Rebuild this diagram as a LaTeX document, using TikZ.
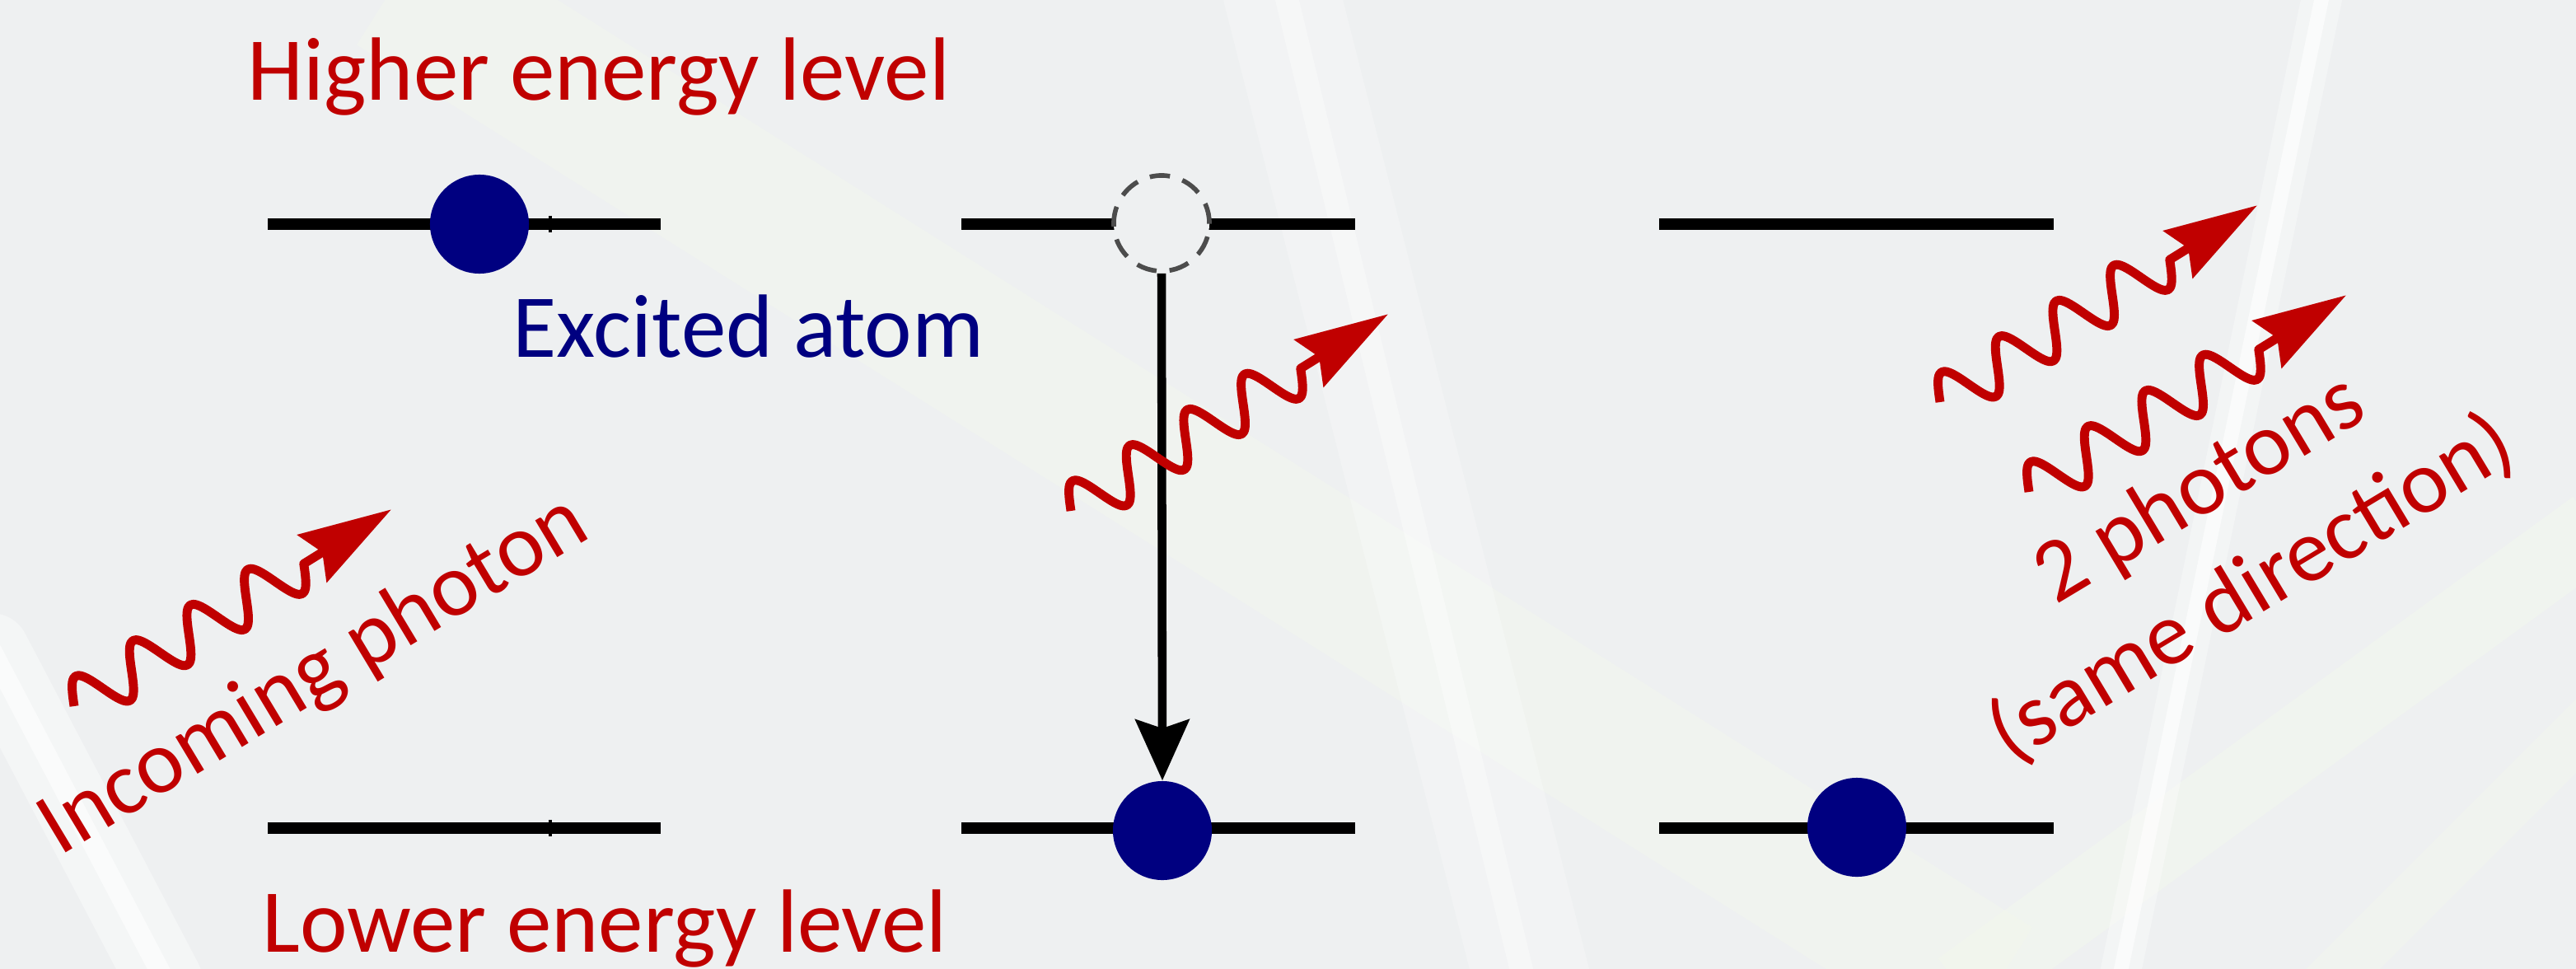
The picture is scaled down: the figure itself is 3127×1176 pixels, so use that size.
\documentclass[tikz,border=0pt]{standalone}
\usepackage{fontspec}
\setmainfont{Carlito}
\usetikzlibrary{arrows.meta}
\definecolor{bg}{HTML}{EEF0F1}
\definecolor{myred}{HTML}{C00000}
\definecolor{mynavy}{HTML}{000080}
\definecolor{glow}{HTML}{F4FAEC}
\begin{document}
\begin{tikzpicture}[x=0.01cm, y=-0.01cm,
  level/.style={line width=3.8pt, black},
  dot/.style={circle, fill=mynavy, minimum size=1.2cm, inner sep=0pt},
  hole/.style={circle, draw=black!70, fill=bg, dash pattern=on 7pt off 4.5pt, line width=1.6pt, minimum size=1.16cm, inner sep=0pt},
  lbl/.style={font=\fontsize{31pt}{37pt}\selectfont, inner sep=0pt},
  photon/.style={myred, line width=3.1pt, line join=round, -{Stealth[length=32pt,width=19pt,inset=4pt]}},
  vert/.style={black, line width=3pt, -{Stealth[length=21pt,width=18.5pt,inset=3pt]}},
  streak/.style={white, line cap=round}
]
\useasboundingbox (0,0) rectangle (3127,1176);
\fill[bg] (0,0) rectangle (3127,1176);
% background streaks
\draw[glow, line width=50pt, opacity=0.35] (480,-20) -- (2420,1200);
\draw[glow, line width=26pt, opacity=0.4] (3150,640) -- (2380,1200);
\draw[glow, line width=18pt, opacity=0.35] (3150,870) -- (2820,1200);
\draw[streak, line width=40pt, opacity=0.25] (1555,-10) -- (1860,1190);
\draw[streak, line width=8pt, opacity=0.35] (1560,-10) -- (1850,1190);
\draw[streak, line width=14pt, opacity=0.35] (2820,-10) -- (2572,1190);
\draw[streak, line width=5pt, opacity=0.6] (2820,-10) -- (2572,1190);
\draw[streak, line width=26pt, opacity=0.4] (-10,790) -- (200,1190);
\draw[streak, line width=7pt, opacity=0.6] (-10,790) -- (200,1190);

% energy levels
\draw[level] (325,272) -- (802,272);
\draw[level] (1167,272) -- (1645,272);
\draw[level] (2014,272) -- (2493,272);
\draw[level] (325,1005) -- (802,1005);
\draw[level] (1167,1005) -- (1645,1005);
\draw[level] (2014,1005) -- (2493,1005);
\draw[black, line width=1pt] (668,262) -- (668,282);
\draw[black, line width=1pt] (668,995) -- (668,1015);

% atoms
\node[dot] (d1) at (582,272) {};
\node[hole] (h2) at (1410,271) {};
\node[dot] (d2) at (1411,1008) {};
\node[dot] (d3) at (2254,1004) {};
\draw[vert] (h2.south) -- (d2.north);

% photons
\coordinate (p1) at (90,857);
\coordinate (p2) at (1300,620);
\coordinate (p3) at (2355,488);
\coordinate (p4) at (2463,597);
\foreach \p in {p1,p2,p3,p4}{
  \begin{scope}[shift={(\p)}, rotate=31.8]
    \draw[photon] plot[domain=0:328, samples=97, smooth] (\x, {-30*sin(4.39024*\x)}) -- (453,0);
  \end{scope}
}

% labels
\node[lbl, myred, anchor=base west] (hi) at (300,122) {Higher energy level};
\node[lbl, myred, anchor=base west] (lo) at (318,1155) {Lower energy level};
\node[lbl, mynavy, anchor=base west] (ex) at (622,433) {Excited atom};
\node[lbl, myred, anchor=base west, rotate=31] (inc) at (72,1040) {Incoming photon};
\node[lbl, myred, anchor=base west, rotate=31] (two) at (2495,735) {2 photons};
\node[lbl, myred, anchor=base west, rotate=31] (same) at (2440,928) {(same direction)};
\end{tikzpicture}
\end{document}
